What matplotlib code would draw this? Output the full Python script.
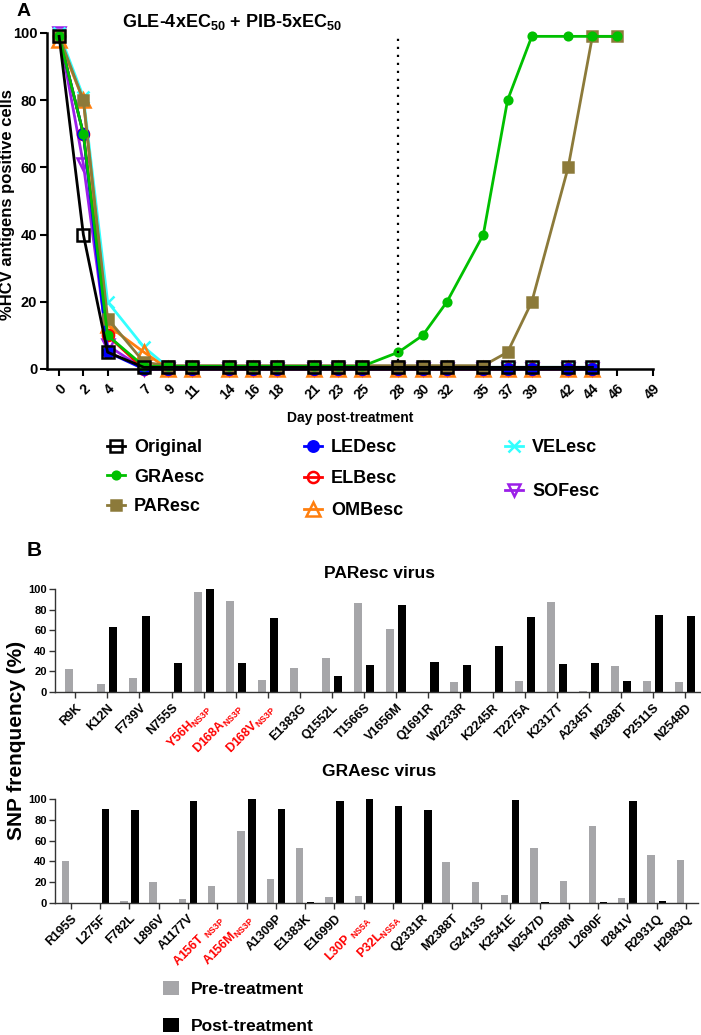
import matplotlib
matplotlib.use('Agg')
import matplotlib.pyplot as plt
import numpy as np

plt.rcParams['font.family'] = ['Liberation Sans', 'DejaVu Sans']
plt.rcParams['font.weight'] = 'bold'
plt.rcParams['axes.labelweight'] = 'bold'
plt.rcParams['mathtext.fontset'] = 'custom'
plt.rcParams['mathtext.rm'] = 'Liberation Sans:bold'
plt.rcParams['mathtext.it'] = 'Liberation Sans:bold'
plt.rcParams['mathtext.bf'] = 'Liberation Sans:bold'
plt.rcParams['mathtext.default'] = 'rm'

# --- панель A: кинетика, % HCV-положительных клеток ---
days = [0, 2, 4, 7, 9, 11, 14, 16, 18, 21, 23, 25, 28, 30, 32, 35, 37, 39, 42, 44]
days_long = days + [46]
day_ticks = [0, 2, 4, 7, 9, 11, 14, 16, 18, 21, 23, 25, 28, 30, 32, 35, 37, 39, 42, 44, 46, 49]

original = [99, 40, 5, 0.5, 0.5, 0.5, 0.5, 0.5, 0.5, 0.5, 0.5, 0.5, 0.5, 0.5, 0.5, 0.5, 0.5, 0.5, 0.5, 0.5]
graesc = [99, 70, 10, 0.8, 0.8, 0.8, 0.8, 0.8, 0.8, 0.8, 0.8, 0.8, 5, 10, 20, 40, 80, 99, 99, 99, 99]
paresc = [99, 80, 15, 2, 1, 1, 1, 1, 1, 1, 1, 1, 1, 1, 1, 1, 5, 20, 60, 99, 99]
ledesc = [99, 70, 5, 0, 0, 0, 0, 0, 0, 0, 0, 0, 0, 0, 0, 0, 0, 0, 0, 0]
elbesc = [99, 70, 10, 0, 0, 0, 0, 0, 0, 0, 0, 0, 0, 0, 0, 0, 0, 0, 0, 0]
ombesc = [98, 80, 13, 5, 0, 0, 0, 0, 0, 0, 0, 0, 0, 0, 0, 0, 0, 0, 0, 0]
velesc = [100, 81, 20, 6.5, 0.5, 0.5, 0.5, 0.5, 0.5, 0.5, 0.5, 0.5, 0.5, 0.5, 0.5, 0.5, 0.5, 0.5, 0.5, 0.5]
sofesc = [100, 61, 7, 0, 0, 0, 0, 0, 0, 0, 0, 0, 0, 0, 0, 0, 0, 0, 0, 0]

# --- панель B: частоты SNP ---
par_labels = ['R9K', 'K12N', 'F739V', 'N755S', 'Y56H$_{NS3P}$', 'D168A$_{NS3P}$',
              'D168V$_{NS3P}$', 'E1383G', 'Q1552L', 'T1566S', 'V1656M', 'Q1691R',
              'W2233R', 'K2245R', 'T2275A', 'K2317T', 'A2345T', 'M2388T', 'P2511S', 'N2548D']
par_pre = [22, 8, 14, 0, 97, 88, 12, 23, 33, 86, 61, 0, 10, 0, 11, 87, 1, 25, 11, 10]
par_post = [0, 63, 74, 28, 100, 28, 72, 0, 16, 26, 84, 29, 26, 45, 73, 27, 28, 11, 75, 74]
par_red = [4, 5, 6]

gra_labels = ['R195S', 'L275F', 'F782L', 'L896V', 'A1177V', 'A156T $_{NS3P}$', 'A156M$_{NS3P}$',
              'A1309P', 'E1383K', 'E1699D', 'L30P $_{NS5A}$', 'P32L$_{NS5A}$', 'Q2331R',
              'M2388T', 'G2413S', 'K2541E', 'N2547D', 'K2598N', 'L2690F', 'I2841V',
              'R2931Q', 'H2983Q']
gra_pre = [40, 0, 2, 20, 4, 16, 69, 23, 53, 6, 7, 0, 0, 39, 20, 8, 53, 21, 74, 5, 46, 41]
gra_post = [0, 90, 89, 0, 98, 0, 100, 90, 0.6, 98, 100, 93, 89, 0, 0, 99, 0.6, 0, 0.6, 98, 2, 0]
gra_red = [5, 6, 10, 11]

W, H = 701, 1035
fig = plt.figure(figsize=(W / 100, H / 100), dpi=100)


def box(l, t, r, b):
    return [l / W, 1 - b / H, (r - l) / W, (b - t) / H]


axA = fig.add_axes(box(47, 33, 653, 369))

series = [
    # name, x, y, color, marker, size, filled
    ('SOFesc', days, sofesc, '#9b1fe8', 'v', 9, False),
    ('VELesc', days, velesc, '#33ffff', 'x', 9, True),
    ('OMBesc', days, ombesc, '#ff7f0e', '^', 10, False),
    ('ELBesc', days, elbesc, '#ff0000', 'o', 8, False),
    ('LEDesc', days, ledesc, '#0000ff', 'o', 7.5, True),
    ('PAResc', days_long, paresc, '#8c7a3a', 's', 6.5, True),
    ('GRAesc', days_long, graesc, '#00c000', 'o', 5.5, True),
    ('Original', days, original, '#000000', 's', 9, False),
]
handles = {}
for name, x, y, c, m, ms, filled in series:
    kw = dict(color=c, marker=m, ms=ms, lw=2, mew=1.8, clip_on=False, label=name)
    if not filled:
        kw['mfc'] = 'none'
    handles[name], = axA.plot(x, y, **kw)

axA.axvline(28, color='black', lw=1.6, ls=(0, (1, 2.6)))
axA.set_xlim(-1, 49)
axA.set_ylim(0, 100)
axA.set_xticks(day_ticks)
axA.set_xticklabels([str(d) for d in day_ticks], rotation=45, ha='right',
                    rotation_mode='anchor', fontsize=10)
axA.set_yticks(range(0, 101, 20))
axA.tick_params(axis='y', labelsize=10.5, width=1.5, length=5, pad=2)
axA.tick_params(axis='x', width=1.5, length=5, pad=4)
for s in ['top', 'right']:
    axA.spines[s].set_visible(False)
for s in ['left', 'bottom']:
    axA.spines[s].set_linewidth(1.8)
axA.set_xlabel('Day post-treatment', fontsize=10, labelpad=6)
fig.text(8 / W, 1 - 205 / H, '%HCV antigens positive cells', rotation=90, fontsize=12,
         ha='center', va='center')

fig.text(232 / W, 1 - 22 / H, 'GLE-4xEC$_{50}$ + PIB-5xEC$_{50}$', fontsize=13,
         ha='center', va='center')
fig.text(24 / W, 1 - 11 / H, 'A', fontsize=14, ha='center', va='center')
fig.text(34 / W, 1 - 550 / H, 'B', fontsize=15, ha='center', va='center')

leg_kw = dict(loc='upper left', frameon=False, fontsize=13, handlelength=1.0,
              handletextpad=0.5, borderpad=0, borderaxespad=0, numpoints=1)
cols = [(['Original', 'GRAesc', 'PAResc'], 107, 439, 0.7),
        (['LEDesc', 'ELBesc', 'OMBesc'], 304, 439, 0.8),
        (['VELesc', 'SOFesc'], 505, 439, 1.5)]
for names, lx, ty, sp in cols:
    fig.legend([handles[n] for n in names], names, bbox_to_anchor=(lx / W, 1 - ty / H),
               labelspacing=sp, **leg_kw)


def bar_panel(box_px, labels, pre, post, red, title, title_y):
    ax = fig.add_axes(box(*box_px))
    x = np.arange(len(labels))
    b1 = ax.bar(x - 0.19, pre, width=0.25, color='#a6a6a9')
    b2 = ax.bar(x + 0.19, post, width=0.25, color='black')
    ax.set_ylim(0, 100)
    ax.set_yticks(range(0, 101, 20))
    ax.set_xticks(x)
    ax.set_xticklabels(labels, rotation=45, ha='right', rotation_mode='anchor', fontsize=9)
    for i in red:
        ax.get_xticklabels()[i].set_color('red')
    ax.tick_params(axis='y', labelsize=8, width=1, length=4, color='#333333', pad=2)
    ax.tick_params(axis='x', width=1, length=4, color='#333333', pad=3)
    for s in ['top', 'right']:
        ax.spines[s].set_visible(False)
    for s in ['left', 'bottom']:
        ax.spines[s].set_linewidth(1)
        ax.spines[s].set_color('#333333')
    fig.text(379 / W, 1 - title_y / H, title, fontsize=12.5, ha='center', va='center')
    return ax, b1, b2


axP, _, _ = bar_panel((55, 589, 700, 692), par_labels, par_pre, par_post, par_red,
                      'PAResc virus', 573)
axP.set_xlim(-0.63, 19.46)
axG, bpre, bpost = bar_panel((55, 799, 698, 903), gra_labels, gra_pre, gra_post, gra_red,
                             'GRAesc virus', 772)
axG.set_xlim(-0.54, 21.41)

fig.text(17 / W, 1 - 740 / H, 'SNP frenquency (%)', rotation=90, fontsize=15,
         ha='center', va='center')

fig.legend([bpre, bpost], ['Pre-treatment', 'Post-treatment'], loc='upper left',
           bbox_to_anchor=(163 / W, 1 - 981 / H), frameon=False, fontsize=12.5,
           handlelength=0.9, handleheight=0.9, handletextpad=0.7, labelspacing=1.2,
           borderpad=0, borderaxespad=0)

fig.savefig('out.png', dpi=100)
